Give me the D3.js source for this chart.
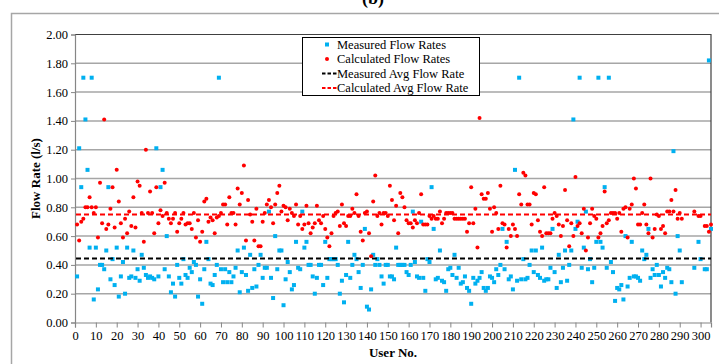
<!DOCTYPE html>
<html>
<head>
<meta charset="utf-8">
<script src="https://cdn.jsdelivr.net/npm/d3@7"></script>
<style>
  html, body { margin: 0; padding: 0; background: #fff; }
  svg { display: block; }
  text { font-family: "Liberation Serif", "Times New Roman", serif; fill: #000; }
</style>
</head>
<body>
<svg id="chart" width="719" height="364"></svg>
<script>
// ---------------- DATA ----------------
const users = d3.range(1, 306);

const measured = [
  0.32,1.21,0.94,1.70,1.41,1.06,0.52,1.70,0.16,0.52,
  0.23,0.40,0.40,0.37,0.50,0.94,0.30,0.44,0.26,0.52,
  0.18,0.32,0.42,0.20,0.52,0.31,0.32,0.50,0.31,0.37,
  0.29,0.47,0.38,0.33,0.31,0.32,0.31,0.30,1.21,0.32,
  0.94,1.06,0.37,0.60,0.32,0.21,0.27,0.18,0.40,0.31,
  0.27,0.44,0.33,0.31,0.38,0.35,0.42,0.40,0.18,0.30,
  0.13,0.37,0.56,0.44,0.27,0.26,0.33,0.40,1.70,0.37,
  0.28,0.37,0.28,0.35,0.28,0.32,0.38,0.50,0.21,0.35,
  0.52,0.33,0.22,0.47,0.24,0.37,0.25,0.40,0.47,0.31,
  0.38,0.38,0.77,0.31,0.17,0.60,0.37,0.50,0.50,0.12,
  0.30,0.42,0.35,0.23,0.26,0.56,0.38,0.37,0.77,0.52,
  0.56,0.40,0.40,0.32,0.20,0.31,0.40,0.40,0.26,0.56,
  0.31,0.44,0.44,0.44,0.44,0.40,0.20,0.29,0.14,0.33,
  0.56,0.31,0.40,0.47,0.44,0.35,0.24,0.40,0.65,0.11,
  0.09,0.23,0.47,0.40,0.44,0.40,0.32,0.27,0.40,0.40,
  0.32,0.32,0.30,0.52,0.40,0.40,0.40,0.40,0.35,0.33,
  0.40,0.77,0.42,0.32,0.31,0.70,0.31,0.22,0.44,0.42,
  0.94,0.65,0.30,0.31,0.50,0.29,0.28,0.22,0.37,0.38,
  0.33,0.47,0.31,0.38,0.27,0.28,0.32,0.24,0.22,0.13,
  0.31,0.27,0.29,0.31,0.35,0.24,0.22,0.24,0.32,0.31,
  0.28,0.37,0.33,0.40,0.65,0.37,0.56,0.30,0.32,0.23,
  1.06,0.29,1.70,0.30,0.44,0.30,0.31,0.40,0.50,0.35,
  0.50,0.33,0.31,0.52,0.29,0.30,0.30,0.38,0.65,0.35,
  0.24,0.47,0.28,0.38,0.50,0.29,0.40,0.50,1.41,0.65,
  0.70,1.70,0.38,0.52,0.77,0.37,0.44,0.28,0.38,0.56,
  1.70,0.56,0.52,0.94,0.38,1.70,0.42,0.35,0.15,0.24,
  0.23,0.26,0.16,0.60,0.25,0.31,0.56,0.32,0.32,0.31,
  0.29,0.50,0.44,0.47,0.65,0.31,0.37,0.33,0.40,0.33,
  0.25,0.35,0.31,0.38,0.37,0.28,1.19,0.20,0.60,0.50,
  0.28,null,null,null,null,null,0.38,null,0.56,0.44,
  null,0.37,0.37,1.82,0.65
];

const calculated = [
  0.68,0.57,0.70,0.72,0.80,0.80,0.87,0.80,0.76,0.80,
  0.59,0.97,0.69,1.41,0.65,0.68,0.79,0.94,0.66,1.06,
  0.84,0.69,0.59,0.72,0.62,0.77,0.67,0.87,0.66,0.98,
  0.95,0.76,0.56,1.20,0.76,0.91,0.76,0.62,0.94,0.69,
  0.78,0.74,0.97,0.76,0.72,0.69,0.72,0.76,0.63,0.69,
  0.72,0.76,0.68,0.69,0.69,0.65,0.76,0.59,0.71,0.56,
  0.63,0.84,0.86,0.70,0.73,0.71,0.62,0.73,0.74,0.76,
  0.82,0.82,0.68,0.87,0.76,0.76,0.68,0.93,0.82,0.90,
  1.09,0.57,0.85,0.75,0.70,0.57,0.79,0.53,0.53,0.70,
  0.76,0.82,0.85,0.80,0.69,0.82,0.90,0.95,0.77,0.81,
  0.80,0.71,0.79,0.76,0.74,0.82,0.68,0.74,0.65,0.68,
  0.81,0.69,0.62,0.66,0.69,0.81,0.71,0.69,0.74,0.65,
  0.59,0.53,0.62,0.74,0.76,0.77,0.67,0.82,0.69,0.67,
  0.74,0.74,0.79,0.76,0.89,0.74,0.63,0.57,0.76,0.77,
  0.62,0.46,0.84,1.02,0.74,0.76,0.68,0.76,0.76,0.74,
  0.95,0.85,0.71,0.81,0.62,0.90,0.87,0.80,0.71,0.69,
  0.69,0.66,0.71,0.69,0.76,0.89,0.68,0.68,0.68,0.74,
  0.72,0.74,0.72,0.72,0.77,0.69,0.72,0.76,0.76,0.76,
  0.76,0.72,0.72,0.72,0.72,0.72,0.72,0.63,0.69,0.94,
  0.69,0.79,0.52,1.42,0.89,0.86,0.86,0.90,0.79,0.63,
  0.80,0.76,0.65,0.95,0.69,0.68,0.52,0.65,0.60,0.68,
  0.65,0.60,0.89,0.82,1.04,1.02,0.82,0.82,0.68,0.90,
  0.89,0.71,0.63,0.60,0.94,0.62,0.62,0.62,0.72,0.76,
  0.74,0.68,0.60,0.67,0.92,0.71,0.53,0.69,0.60,1.01,
  0.67,0.69,0.62,0.79,0.50,0.59,0.69,0.79,0.74,0.72,
  0.59,0.62,0.67,0.91,0.69,0.71,0.76,0.76,0.76,0.72,
  0.76,0.63,0.79,0.80,0.59,0.79,0.82,1.00,0.93,0.68,
  0.68,0.76,0.82,0.68,0.62,1.00,0.59,0.65,0.75,0.74,
  0.65,0.67,0.62,0.77,0.77,0.85,0.77,0.92,0.72,0.76,
  0.72,null,null,null,null,null,0.77,null,0.74,0.74,
  null,0.67,0.67,0.63,0.68
];

const measuredAvg = 0.445;
const calculatedAvg = 0.75;

const yTicks = [0, 0.2, 0.4, 0.6, 0.8, 1.0, 1.2, 1.4, 1.6, 1.8, 2.0];
const xTicks = d3.range(0, 301, 10);

const seriesNames = ["Measured Flow Rates", "Calculated Flow Rates",
                     "Measured Avg Flow Rate", "Calculated Avg Flow Rate"];

// ---------------- LAYOUT ----------------
const svg = d3.select("#chart");
const plot = { left: 75, right: 711, top: 34.5, bottom: 322.5 };
const BLUE = "#00b0f0", RED = "#ff0000";
const DASH = "5,3";

const x = d3.scaleLinear().domain([0, 305]).range([plot.left, plot.right]);
const y = d3.scaleLinear().domain([0, 2]).range([plot.bottom, plot.top]);

svg.append("rect").attr("width", 719).attr("height", 364).attr("fill", "#fff");

// outer chart frame
svg.append("rect")
  .attr("x", 11.5).attr("y", 13.5).attr("width", 740).attr("height", 400)
  .attr("fill", "none").attr("stroke", "#a6a6a6").attr("stroke-width", 1.5);

// title (mostly cut off at top)
svg.append("text")
  .attr("x", 373).attr("y", 4)
  .attr("text-anchor", "middle")
  .style("font-size", "18px").style("font-weight", "bold")
  .text("(b)");

// gridlines
svg.append("g")
  .selectAll("line")
  .data(yTicks.filter(d => d > 0 && d < 2))
  .join("line")
  .attr("x1", plot.left).attr("x2", plot.right)
  .attr("y1", d => y(d)).attr("y2", d => y(d))
  .attr("stroke", "#a6a6a6").attr("stroke-width", 1.5);

// plot frame (top/right)
svg.append("path")
  .attr("d", `M${plot.left},${y(2)}H${plot.right}V${plot.bottom}`)
  .attr("fill", "none").attr("stroke", "#404040").attr("stroke-width", 1.2);

// axes
const yAxis = d3.axisLeft(y).tickValues(yTicks).tickFormat(d3.format(".2f")).tickSize(4).tickPadding(3);
const gy = svg.append("g").attr("transform", `translate(${plot.left},0)`).call(yAxis);
gy.select(".domain").attr("stroke", "#868686").attr("stroke-width", 1.2);
gy.selectAll(".tick line").attr("stroke", "#868686");
gy.selectAll(".tick text").style("font-size", "12.5px").style("font-family", "Liberation Serif, serif").attr("fill", "#000");

const xAxis = d3.axisBottom(x).tickValues(xTicks).tickSize(5).tickPadding(4);
const gx = svg.append("g").attr("transform", `translate(0,${plot.bottom})`).call(xAxis);
gx.select(".domain").attr("stroke", "#868686").attr("stroke-width", 1.2);
gx.selectAll(".tick line").attr("stroke", "#868686");
gx.selectAll(".tick text").style("font-size", "12.5px").style("font-family", "Liberation Serif, serif").attr("fill", "#000");

// axis titles
svg.append("text")
  .attr("transform", `translate(40,${(plot.top + plot.bottom) / 2}) rotate(-90)`)
  .attr("text-anchor", "middle")
  .style("font-size", "13px").style("font-weight", "bold")
  .text("Flow Rate (l/s)");

svg.append("text")
  .attr("x", (plot.left + plot.right) / 2).attr("y", 357)
  .attr("text-anchor", "middle")
  .style("font-size", "13px").style("font-weight", "bold")
  .text("User No.");

// points
const mData = users.map((u, i) => ({ u, v: measured[i] })).filter(d => d.v != null);
const cData = users.map((u, i) => ({ u, v: calculated[i] })).filter(d => d.v != null);

svg.append("g").selectAll("rect")
  .data(mData).join("rect")
  .attr("x", d => x(d.u) - 2).attr("y", d => y(d.v) - 2)
  .attr("width", 4).attr("height", 4)
  .attr("fill", BLUE);

svg.append("g").selectAll("circle")
  .data(cData).join("circle")
  .attr("cx", d => x(d.u)).attr("cy", d => y(d.v)).attr("r", 2)
  .attr("fill", RED);

// average lines
svg.append("line")
  .attr("x1", plot.left + 1).attr("x2", plot.right)
  .attr("y1", y(measuredAvg)).attr("y2", y(measuredAvg))
  .attr("stroke", "#000").attr("stroke-width", 2).attr("stroke-dasharray", DASH);
svg.append("line")
  .attr("x1", plot.left + 1).attr("x2", plot.right)
  .attr("y1", y(calculatedAvg)).attr("y2", y(calculatedAvg))
  .attr("stroke", RED).attr("stroke-width", 2).attr("stroke-dasharray", DASH);

// legend
const lg = svg.append("g");
lg.append("rect")
  .attr("x", 302.5).attr("y", 37.5).attr("width", 177).attr("height", 58)
  .attr("fill", "#fff").attr("stroke", "#000").attr("stroke-width", 1);
const rowY = [44.5, 59, 73.5, 88];
lg.append("rect").attr("x", 325).attr("y", rowY[0] - 2).attr("width", 4).attr("height", 4).attr("fill", BLUE);
lg.append("circle").attr("cx", 327).attr("cy", rowY[1]).attr("r", 2).attr("fill", RED);
lg.append("line").attr("x1", 322).attr("x2", 337).attr("y1", rowY[2]).attr("y2", rowY[2])
  .attr("stroke", "#000").attr("stroke-width", 2).attr("stroke-dasharray", "3.5,2");
lg.append("line").attr("x1", 322).attr("x2", 337).attr("y1", rowY[3]).attr("y2", rowY[3])
  .attr("stroke", RED).attr("stroke-width", 2).attr("stroke-dasharray", "3.5,2");
lg.selectAll("text.lab")
  .data(seriesNames).join("text")
  .attr("class", "lab")
  .attr("x", 337).attr("y", (d, i) => rowY[i])
  .attr("dy", "0.35em")
  .style("font-size", "12.5px")
  .text(d => d);
</script>
</body>
</html>
